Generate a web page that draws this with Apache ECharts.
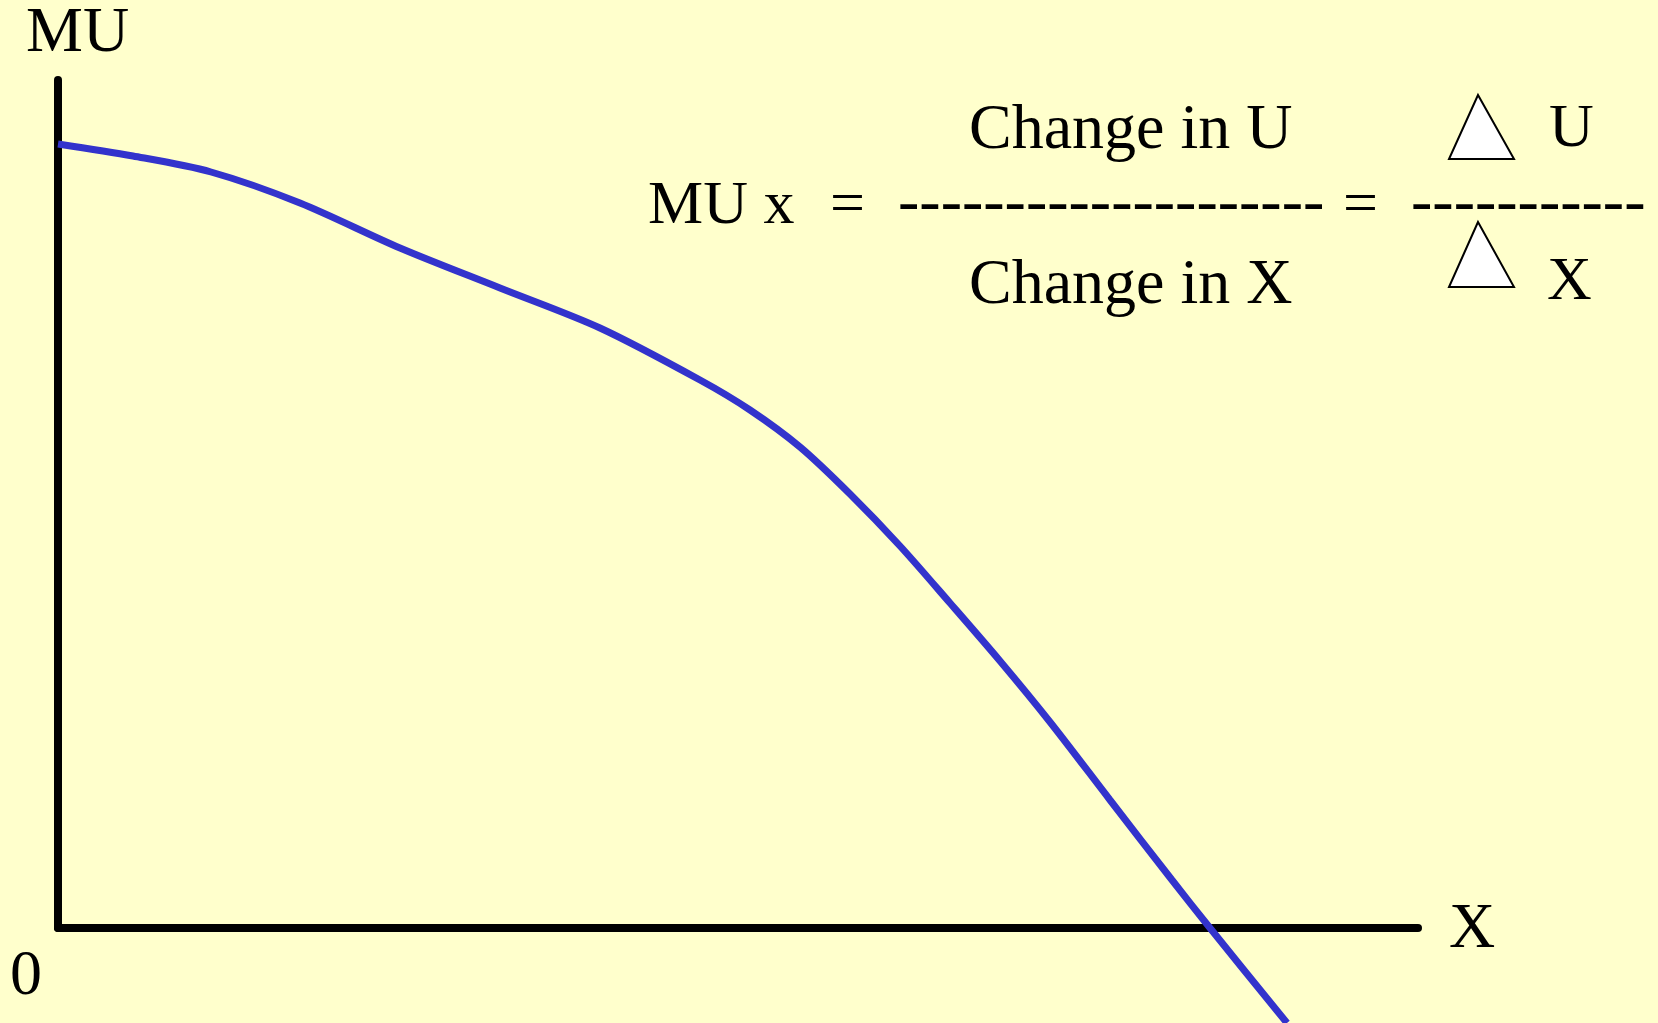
<!DOCTYPE html>
<html>
<head>
<meta charset="utf-8">
<title>MU</title>
<script src="https://cdn.jsdelivr.net/npm/echarts@6/dist/echarts.min.js"></script>
<style>
html,body{margin:0;padding:0;background:#FFFFCC;}
#chart{width:1658px;height:1023px;}
</style>
</head>
<body>
<div id="chart"></div>
<script>
// quantity of X (axis units) and marginal utility
var xVals = [0, 75, 153, 242, 342, 442, 542, 642, 692, 742, 792, 842, 892, 942, 992, 1052, 1114, 1152, 1229];
var muVals = [784, 772, 756, 725, 680, 640, 600, 548, 518, 481, 434, 382, 325, 267, 206, 128, 48, 0, -95];

var xMax = 1360;
var yMax = 848;

var serif = '"Liberation Serif", "Times New Roman", serif';
var bgColor = '#FFFFCC';

// text drawn with middle baseline, convert from alphabetic baseline
function txt(str, x, base, size) {
    return {
        type: 'text',
        style: {
            text: str,
            x: x,
            y: base - 0.26 * size,
            font: size + 'px ' + serif,
            fill: '#000',
            align: 'left',
            verticalAlign: 'middle'
        }
    };
}
function tri(apexX, apexY, baseY) {
    return {
        type: 'polygon',
        shape: {points: [[apexX, apexY], [apexX - 29, baseY], [apexX + 36, baseY]]},
        style: {fill: '#fff', stroke: '#000', lineWidth: 2}
    };
}

var chart = echarts.init(document.getElementById('chart'));
chart.setOption({
    backgroundColor: bgColor,
    animation: false,
    grid: {
        left: 58,
        right: 240,
        top: 80,
        bottom: 95
    },
    xAxis: {
        type: 'value',
        min: 0,
        max: xMax,
        axisLine: {
            lineStyle: {color: '#000', width: 8}
        },
        axisTick: {show: false},
        axisLabel: {show: false},
        splitLine: {show: false}
    },
    yAxis: {
        type: 'value',
        min: 0,
        max: yMax,
        axisLine: {
            show: true,
            lineStyle: {color: '#000', width: 8}
        },
        axisTick: {show: false},
        axisLabel: {show: false},
        splitLine: {show: false}
    },
    series: [{
        type: 'line',
        data: xVals.map(function (x, i) { return [x, muVals[i]]; }),
        smooth: 0.3,
        clip: false,
        symbol: 'none',
        lineStyle: {color: '#3333CC', width: 7}
    }],
    graphic: [
        txt('MU', 26, 51, 64),
        txt('0', 10, 994, 64),
        txt('X', 1449, 947, 64),
        txt('MU x', 648, 223, 62),
        txt('=', 830, 223, 62),
        txt('--------------------', 898, 222, 64),
        txt('=', 1343, 223, 62),
        txt('-----------', 1411, 222, 64),
        txt('Change in U', 969, 148, 64),
        txt('Change in X', 969, 303, 64),
        txt('U', 1549, 146, 62),
        txt('X', 1547, 299, 62),
        tri(1478, 95, 159),
        tri(1478, 222, 287)
    ]
});
</script>
</body>
</html>
